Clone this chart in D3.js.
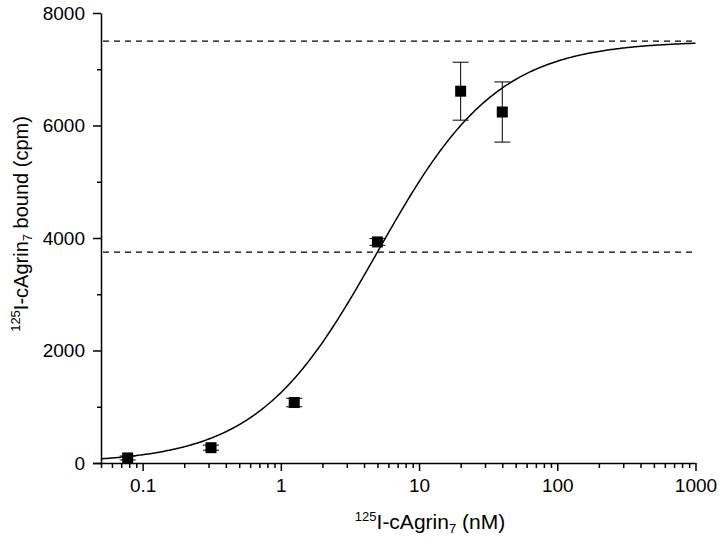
<!DOCTYPE html>
<html>
<head>
<meta charset="utf-8">
<script src="https://cdn.jsdelivr.net/npm/d3@7"></script>
<style>
  html, body { margin: 0; padding: 0; background: #fff; }
  svg { display: block; font-family: "Liberation Sans", Arial, Helvetica, sans-serif; }
</style>
</head>
<body>
<svg id="chart" width="720" height="538"></svg>
<script>
// ---- data ----
const concentrations = [0.078, 0.3125, 1.25, 5, 20, 40];      // nM
const boundValues   = [90, 272, 1075, 3930, 6610, 6240];       // cpm
const boundErrors   = [35, 45, 75, 60, 515, 535];              // cpm
const xTickValues = [0.1, 1, 10, 100, 1000];
const xTickLabels = ["0.1", "1", "10", "100", "1000"];
const yTickValues = [0, 2000, 4000, 6000, 8000];
const yTickLabels = ["0", "2000", "4000", "6000", "8000"];
// fitted binding model parameters
const fitBmax = 7500;
const fitKd = 5;
const refLines = [fitBmax, fitBmax / 2];

// ---- layout ----
const svg = d3.select("#chart");
const x = d3.scaleLog().domain([0.05, 1000]).range([101, 695.5]);
const y = d3.scaleLinear().domain([0, 8000]).range([463, 13]);
const fontSize = 19;

// dashed reference lines
svg.append("g").selectAll("line").data(refLines).join("line")
  .attr("x1", x(0.05) + 2).attr("x2", x(1000))
  .attr("y1", d => y(d)).attr("y2", d => y(d))
  .attr("stroke", "#000").attr("stroke-width", 1.3)
  .attr("stroke-dasharray", "6,5");

// fitted curve
const curveXs = d3.range(0, 401).map(i => Math.pow(10, Math.log10(0.05) + i * (Math.log10(1000) - Math.log10(0.05)) / 400));
svg.append("path")
  .datum(curveXs)
  .attr("fill", "none").attr("stroke", "#000").attr("stroke-width", 1.5)
  .attr("d", d3.line().x(d => x(d)).y(d => y(fitBmax * d / (fitKd + d))));

// x axis
const xMinor = [];
for (let e = -2; e <= 2; e++) for (let m = 1; m <= 9; m++) {
  const v = m * Math.pow(10, e);
  if (v >= 0.05 && v <= 1000 && m !== 1) xMinor.push(v);
}
const xAxisMinor = d3.axisBottom(x).tickValues(xMinor).tickSize(5).tickFormat("");
const xAxis = d3.axisBottom(x).tickValues(xTickValues).tickSize(8).tickSizeOuter(0)
  .tickFormat((d, i) => xTickLabels[i]);
const gxm = svg.append("g").attr("transform", "translate(0,463)").call(xAxisMinor);
gxm.select(".domain").remove();
gxm.selectAll("line").attr("stroke", "#000").attr("stroke-width", 1.5);
const gx = svg.append("g").attr("transform", "translate(0,463)").call(xAxis);
gx.select(".domain").attr("stroke", "#000").attr("stroke-width", 1.5)
  .attr("d", `M${x(0.05) - 8},0.5H${x(1000)}`);
gx.selectAll("line").attr("stroke", "#000").attr("stroke-width", 1.5);
gx.selectAll("text").attr("font-size", fontSize).attr("fill", "#000").attr("dy", "0.71em").attr("y", 16);

// y axis
const yMinor = [1000, 3000, 5000, 7000];
const yAxisMinor = d3.axisLeft(y).tickValues(yMinor).tickSize(4).tickFormat("");
const yAxis = d3.axisLeft(y).tickValues(yTickValues).tickSize(8).tickSizeOuter(0)
  .tickFormat((d, i) => yTickLabels[i]);
const gym = svg.append("g").attr("transform", "translate(101,0)").call(yAxisMinor);
gym.select(".domain").remove();
gym.selectAll("line").attr("stroke", "#000").attr("stroke-width", 1.5);
const gy = svg.append("g").attr("transform", "translate(101,0)").call(yAxis);
gy.select(".domain").attr("stroke", "#000").attr("stroke-width", 1.5);
gy.selectAll("line").attr("stroke", "#000").attr("stroke-width", 1.5);
gy.selectAll("text").attr("font-size", fontSize).attr("fill", "#000").attr("x", -16);

// error bars
const pts = concentrations.map((c, i) => ({c, v: boundValues[i], e: boundErrors[i]}));
const eb = svg.append("g").attr("stroke", "#000").attr("stroke-width", 1);
eb.selectAll("line.v").data(pts).join("line").attr("class", "v")
  .attr("x1", d => x(d.c)).attr("x2", d => x(d.c))
  .attr("y1", d => y(d.v + d.e)).attr("y2", d => y(d.v - d.e));
eb.selectAll("line.t").data(pts).join("line").attr("class", "t")
  .attr("x1", d => x(d.c) - 8).attr("x2", d => x(d.c) + 8)
  .attr("y1", d => y(d.v + d.e)).attr("y2", d => y(d.v + d.e));
eb.selectAll("line.b").data(pts).join("line").attr("class", "b")
  .attr("x1", d => x(d.c) - 8).attr("x2", d => x(d.c) + 8)
  .attr("y1", d => y(d.v - d.e)).attr("y2", d => y(d.v - d.e));

// markers
const ms = 11;
svg.append("g").selectAll("rect").data(pts).join("rect")
  .attr("x", d => x(d.c) - ms / 2).attr("y", d => y(d.v) - ms / 2)
  .attr("width", ms).attr("height", ms).attr("fill", "#000");

// x title
const xt = svg.append("text").attr("x", 430).attr("y", 529).attr("text-anchor", "middle")
  .attr("font-size", 21).attr("fill", "#000");
xt.append("tspan").attr("font-size", 13).attr("dy", -8).text("125");
xt.append("tspan").attr("dy", 8).text("I-cAgrin");
xt.append("tspan").attr("font-size", 13).attr("dy", 4).text("7");
xt.append("tspan").attr("dy", -4).text(" (nM)");

// y title
const yt = svg.append("text").attr("transform", "translate(28,224) rotate(-90)")
  .attr("text-anchor", "middle").attr("font-size", 20).attr("fill", "#000");
yt.append("tspan").attr("font-size", 13).attr("dy", -8).text("125");
yt.append("tspan").attr("dy", 8).text("I-cAgrin");
yt.append("tspan").attr("font-size", 13).attr("dy", 4).text("7");
yt.append("tspan").attr("dy", -4).text(" bound (cpm)");
</script>
</body>
</html>
